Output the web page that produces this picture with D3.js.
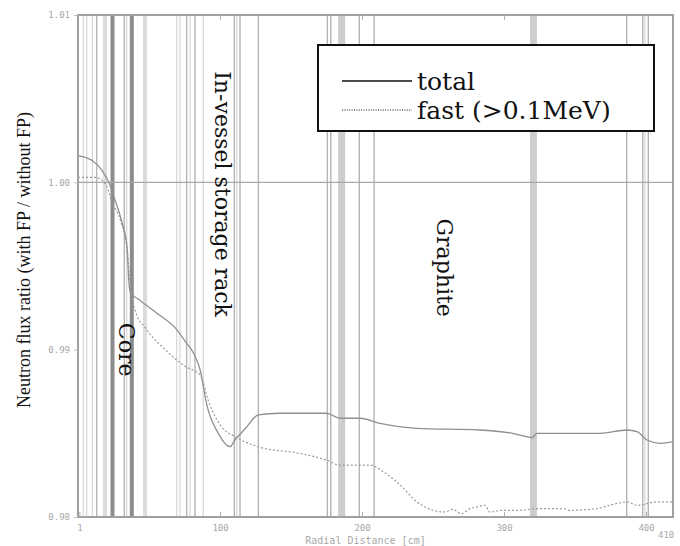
<!DOCTYPE html>
<html>
<head>
<meta charset="utf-8">
<script src="https://cdn.jsdelivr.net/npm/d3@7"></script>
<style>
  html, body { margin: 0; padding: 0; background: #fff; }
  svg { display: block; }
</style>
</head>
<body>
<svg id="chart" width="680" height="546"></svg>
<script>
// ---------------- data ----------------
const yTickValues = [0.98, 0.99, 1.00, 1.01];
const yTickLabels = ["0.98", "0.99", "1.00", "1.01"];
const xTickValues = [1, 100, 200, 300, 400];
const xEndLabel = "410";
const xAxisTitle = "Radial Distance [cm]";
const yAxisTitle = "Neutron flux ratio (with FP / without FP)";

// region boundary radii (cm) and boundary kind
const boundaryCm = [3.7, 6.1, 10.1, 13.2, 19, 24.3, 32.6, 34.3, 37.9, 47.2,
  69.5, 71.8, 76.5, 78.9, 82.4, 88.2, 110.1, 111.8, 114.1, 127,
  175.6, 178, 185.7, 198.1, 208.5, 320.7, 386.4, 397.7, 399.3, 401.6];
const boundaryKind = ["thin", "thin", "thin", "mid", "wide", "heavy", "mid", "thin", "heavy", "wide",
  "thin", "thin", "mid", "thin", "mid", "thin", "mid", "thin", "mid", "mid",
  "mid", "mid", "band", "mid", "mid", "band", "mid", "mid", "thin", "mid"];

// series: total
const totalCm = [0, 10, 17, 21.7, 25, 31, 34.6, 35.7, 37, 42.8,
  56.8, 68.5, 75.5, 81.3, 86, 90.7, 98.8, 107, 110.5, 118,
  127, 142, 175, 184.5, 198.6, 212.7, 238.7, 283, 306, 320,
  323, 344, 367.6, 386.6, 393.7, 400.7, 410, 419];
const totalVal = [1.0016, 1.0013, 1.0007, 1.0000, 0.9992, 0.9976, 0.9961, 0.9942, 0.9934, 0.9930,
  0.9921, 0.9913, 0.9905, 0.9898, 0.9888, 0.9867, 0.9850, 0.9842, 0.9846, 0.9853,
  0.9861, 0.9862, 0.9862, 0.9859, 0.9859, 0.9856, 0.9853, 0.9852, 0.9850, 0.98475,
  0.9850, 0.9850, 0.9850, 0.9852, 0.9851, 0.9846, 0.9844, 0.9845];

// series: fast (>0.1MeV)
const fastCm = [0, 12, 19.4, 24, 30, 34.6, 37, 40.4, 47.4, 61.4,
  75.5, 86, 92, 101, 110.5, 127, 156, 175, 184.5, 205.6,
  215, 227, 238.7, 250, 258, 264, 270, 276, 281, 286.6,
  290, 299, 311, 323, 341.5, 346, 365.5, 374.6, 386.6, 393.7,
  407.7, 419];
const fastVal = [1.0003, 1.0003, 0.9999, 0.9988, 0.9977, 0.9959, 0.9937, 0.9923, 0.9913, 0.9900,
  0.9890, 0.9885, 0.9869, 0.9854, 0.9848, 0.9842, 0.9838, 0.9834, 0.9831, 0.9831,
  0.9827, 0.9819, 0.9809, 0.9804, 0.9803, 0.98045, 0.9802, 0.9805, 0.9806, 0.9807,
  0.9803, 0.9804, 0.9804, 0.9805, 0.9805, 0.9804, 0.9805, 0.9807, 0.9809, 0.9807,
  0.9809, 0.9809];

const seriesNames = ["total", "fast (>0.1MeV)"];
const regionLabels = ["Core", "In-vessel storage rack", "Graphite"];
const regionLabelCm = [34, 102, 258];
const regionLabelVal = [0.9900, 0.9993, 0.9949];

// ---------------- layout / style ----------------
const W = 680, H = 546;
const L = 78, R = 673, T = 15, B = 517;
const kindStyle = {
  thin:  { color: "#d6d6d6", width: 1.2 },
  mid:   { color: "#b4b4b4", width: 1.4 },
  wide:  { color: "#dcdcdc", width: 4 },
  heavy: { color: "#8c8c8c", width: 4 },
  band:  { color: "#cdcdcd", width: 7 }
};
const tickFont = "'DejaVu Sans Mono', monospace";
const serif = "'DejaVu Serif', serif";

const svg = d3.select("#chart");
const x = d3.scaleLinear().domain([0, 419]).range([L, R]);
const y = d3.scaleLinear().domain([0.98, 1.01]).range([B, T]);

// boundaries
const bData = boundaryCm.map((c, i) => ({ c, k: boundaryKind[i] }));
svg.append("g").selectAll("line").data(bData).join("line")
  .attr("x1", d => x(d.c)).attr("x2", d => x(d.c))
  .attr("y1", T).attr("y2", B)
  .attr("stroke", d => kindStyle[d.k].color)
  .attr("stroke-width", d => kindStyle[d.k].width);

// horizontal reference at 1.00
svg.append("line")
  .attr("x1", L).attr("x2", R).attr("y1", y(1.0)).attr("y2", y(1.0))
  .attr("stroke", "#a8a8a8").attr("stroke-width", 1.2);

// curves
const line = d3.line().x(d => x(d[0])).y(d => y(d[1])).curve(d3.curveMonotoneX);
svg.append("path")
  .datum(totalCm.map((c, i) => [c, totalVal[i]]))
  .attr("d", line).attr("fill", "none")
  .attr("stroke", "#8f8f8f").attr("stroke-width", 1.3);
svg.append("path")
  .datum(fastCm.map((c, i) => [c, fastVal[i]]))
  .attr("d", line).attr("fill", "none")
  .attr("stroke", "#9a9a9a").attr("stroke-width", 1.2)
  .attr("stroke-dasharray", "2,2");

// frame
svg.append("rect").attr("x", L).attr("y", T).attr("width", R - L).attr("height", B - T)
  .attr("fill", "none").attr("stroke", "#a0a0a0").attr("stroke-width", 2);

// axes (labels + small ticks)
const yAxis = d3.axisLeft(y).tickValues(yTickValues)
  .tickFormat((d, i) => yTickLabels[i]).tickSize(4).tickPadding(4);
const gy = svg.append("g").attr("transform", `translate(${L},0)`).call(yAxis);
gy.select(".domain").remove();
gy.selectAll(".tick line").attr("stroke", "#c0c0c0");
gy.selectAll(".tick text").attr("fill", "#a8a8a8").style("font-family", tickFont).style("font-size", "9px");

const xAxis = d3.axisBottom(x).tickValues(xTickValues).tickSize(-5).tickPadding(8);
const gx = svg.append("g").attr("transform", `translate(0,${B})`).call(xAxis);
gx.select(".domain").remove();
gx.selectAll(".tick line").attr("stroke", "#b0b0b0");
gx.selectAll(".tick text").attr("fill", "#a8a8a8").style("font-family", tickFont).style("font-size", "9px");

const xTop = d3.axisTop(x).tickValues(xTickValues.slice(1, 4)).tickSize(-5).tickFormat("");
const gxt = svg.append("g").attr("transform", `translate(0,${T})`).call(xTop);
gxt.select(".domain").remove();
gxt.selectAll(".tick line").attr("stroke", "#b0b0b0");

svg.append("text").attr("x", R - 15).attr("y", B + 21)
  .attr("fill", "#a8a8a8").style("font-family", tickFont).style("font-size", "9px")
  .text(xEndLabel);

svg.append("text").attr("x", (L + R) / 2 - 10).attr("y", H - 2)
  .attr("text-anchor", "middle").attr("fill", "#a8a8a8")
  .style("font-family", tickFont).style("font-size", "10px")
  .text(xAxisTitle);

svg.append("text")
  .attr("transform", `translate(24,260) rotate(-90)`)
  .attr("text-anchor", "middle").attr("dominant-baseline", "central")
  .style("font-family", "'Liberation Serif', serif").style("font-size", "18px")
  .attr("fill", "#111").text(yAxisTitle);

// region labels
svg.append("g").selectAll("text").data(regionLabels).join("text")
  .attr("transform", (d, i) => `translate(${x(regionLabelCm[i])},${y(regionLabelVal[i])}) rotate(90)`)
  .attr("text-anchor", "middle").attr("dominant-baseline", "central")
  .style("font-family", serif).style("font-size", "22px").attr("fill", "#111")
  .text(d => d);

// legend
const lg = svg.append("g");
lg.append("rect").attr("x", 318).attr("y", 45).attr("width", 336).attr("height", 86)
  .attr("fill", "#fff").attr("stroke", "#111").attr("stroke-width", 2);
const legendRows = [
  { name: seriesNames[0], dash: null, w: 1.6 },
  { name: seriesNames[1], dash: "1,1.4", w: 1 }
];
legendRows.forEach((r, i) => {
  const yy = 81 + i * 29;
  lg.append("line").attr("x1", 342).attr("x2", 412).attr("y1", yy).attr("y2", yy)
    .attr("stroke", "#111").attr("stroke-width", r.w)
    .attr("stroke-dasharray", r.dash);
  lg.append("text").attr("x", 417).attr("y", yy + 9)
    .style("font-family", serif).style("font-size", "25px").attr("fill", "#111")
    .text(r.name);
});
</script>
</body>
</html>
